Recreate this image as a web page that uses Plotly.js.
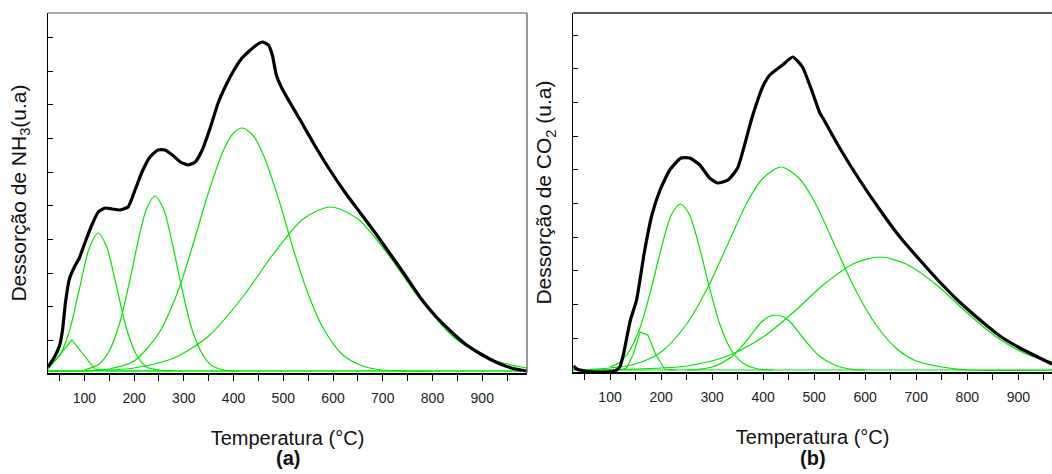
<!DOCTYPE html>
<html>
<head>
<meta charset="utf-8">
<script src="https://cdn.plot.ly/plotly-3.0.1.min.js"></script>
<style>html,body{margin:0;padding:0;background:#fff;}#chart{width:1052px;height:474px;}</style>
</head>
<body>
<div id="chart"></div>
<script>
// ---------- Panel (a): NH3-TPD ----------
const tempA = [27,40,50,56,62,70,80,90,101,116,128,142,156,172,188,202,216,232,248,262,277,293,309,323,337,353,369,385,401,417,434,446,458,470,478,486,498,514,534,564,595,625,655,685,715,746,776,806,836,866,897,927,947,967,989];
const sinalA = [4,14,25,40,68,92,104,113,128,147,159,163,162,161,164,181,199,214,221,221,216,209,206,209,221,243,268,286,301,313,321,326,329,326,316,296,282,268,251,225,200,178,158,138,117,95,73,55,40,27,17,9,5,2,0];

const a1T = [27,75,121,150,990];
const a1Y = [2,31,2,0,0];
const a2T = [27,50,70,90,110,128,145,165,185,205,225,250,280];
const a2Y = [5,15,40,82,123,138,124,84,42,16,4,1,0];
const a3T = [100,130,150,170,190,210,225,242,260,275,295,315,335,355,380,410];
const a3Y = [1,7,20,46,87,134,162,175,161,132,85,44,19,6,1,0];
const a4T = [27,100,150,200,250,290,320,350,380,400,418,440,460,490,520,550,580,620,660,700,750,800];
const a4Y = [0,0,2,10,38,82,129,179,221,238,243,235,216,173,122,77,43,16,5,1,0,0];
const a5T = [27,100,200,280,350,420,480,540,595,650,710,770,840,910,990];
const a5Y = [0,0,3,13,35,75,117,152,164,152,117,75,35,13,3];
const baseA_T = [27,990];
const baseA_Y = [0,0];

// ---------- Panel (b): CO2-TPD ----------
const tempB = [28,35,50,70,90,110,119,126,133,140,152,168,182,198,217,239,256,276,295,311,331,350,378,399,413,438,458,477,497,511,517,550,589,629,668,707,746,785,825,864,903,942,966];
const sinalB = [4,1,-1,-2,-2,-1,3,15,33,50,70,120,155,180,200,212,212,205,192,187,190,202,252,283,295,305,313,303,277,257,252,222,190,160,133,110,88,68,50,34,22,12,6];

const b1T = [120,132,145,159,174,190,207,230];
const b1Y = [0,2,15,38,35,15,1,0];
const b2T = [100,120,140,160,180,200,220,238,255,275,295,315,335,360,390,420];
const b2Y = [3,8,21,44,80,121,155,166,156,123,82,46,22,7,1,0];
const b3T = [28,100,150,200,250,290,330,370,400,435,470,500,540,580,620,660,700,750,800,966];
const b3Y = [0,2,6,18,46,81,125,169,192,203,192,169,125,81,46,22,9,3,0,0];
const b4T = [250,300,340,370,395,410,425,440,455,480,510,540,570,600];
const b4Y = [0,3,14,31,47,53,55,53,47,31,14,5,1,0];
const b5T = [28,150,250,330,400,460,520,580,629,680,740,800,860,920,966];
const b5Y = [0,1,4,14,33,58,86,107,113,106,85,57,32,15,8];
const baseB_T = [28,966];
const baseB_Y = [0,0];

const GREEN = '#00e600';
const FONT = 'Liberation Sans, Arial, sans-serif';

function green(x, y, xa, ya, shape) {
  return {x: x, y: y, xaxis: xa, yaxis: ya, type: 'scatter', mode: 'lines',
    line: {color: GREEN, width: 1.2, shape: shape || 'spline', smoothing: 0.8},
    hoverinfo: 'skip', showlegend: false};
}
function black(x, y, xa, ya) {
  return {x: x, y: y, xaxis: xa, yaxis: ya, type: 'scatter', mode: 'lines',
    line: {color: '#000', width: 3.2, shape: 'spline', smoothing: 0.5},
    hoverinfo: 'skip', showlegend: false};
}

const data = [
  green(baseA_T, baseA_Y, 'x', 'y', 'linear'),
  green(a1T, a1Y, 'x', 'y', 'linear'),
  green(a2T, a2Y, 'x', 'y'),
  green(a3T, a3Y, 'x', 'y'),
  green(a4T, a4Y, 'x', 'y'),
  green(a5T, a5Y, 'x', 'y'),
  black(tempA, sinalA, 'x', 'y'),
  green(baseB_T, baseB_Y, 'x2', 'y2', 'linear'),
  green(b1T, b1Y, 'x2', 'y2', 'linear'),
  green(b2T, b2Y, 'x2', 'y2'),
  green(b3T, b3Y, 'x2', 'y2'),
  green(b4T, b4Y, 'x2', 'y2'),
  green(b5T, b5Y, 'x2', 'y2'),
  black(tempB, sinalB, 'x2', 'y2')
];

function xAxis(domain, range, anchor) {
  return {
    domain: domain, range: range, anchor: anchor,
    showgrid: false, zeroline: false,
    showline: true, linecolor: '#000', linewidth: 2,
    ticks: 'outside', ticklen: 6, tickwidth: 1, tickcolor: '#000',
    tick0: 0, dtick: 100,
    minor: {dtick: 50, tick0: 0, ticks: 'outside', ticklen: 6, tickwidth: 1, tickcolor: '#000'},
    tickfont: {family: FONT, size: 14, color: '#222'},
    ticklabelstandoff: 5,
    title: {text: 'Temperatura (°C)', font: {family: FONT, size: 20, color: '#111'}, standoff: 26}
  };
}
function yAxis(domain, range, anchor, title, dtick, tick0) {
  return {
    domain: domain, range: range, anchor: anchor,
    showgrid: false, zeroline: false,
    showline: true, linecolor: '#000', linewidth: 1.5,
    ticks: 'inside', ticklen: 5, tickwidth: 1, tickcolor: '#000',
    dtick: dtick, tick0: tick0,
    showticklabels: false,
    title: {text: title, font: {family: FONT, size: 21, color: '#111'}, standoff: 14}
  };
}

const layout = {
  width: 1052, height: 474,
  margin: {l: 48, r: 0, t: 13, b: 101},
  paper_bgcolor: '#fff', plot_bgcolor: '#fff',
  font: {family: FONT},
  xaxis: xAxis([0, 0.4771], [27, 990], 'y'),
  yaxis: yAxis([0, 1], [-2, 358], 'x', 'Dessorção de NH<sub>3</sub>(u.a)', 33.7, -3.3),
  xaxis2: xAxis([0.5232, 1], [28, 966], 'y2'),
  yaxis2: yAxis([0.0028, 1], [-2, 357], 'x2', 'Dessorção de CO<sub>2</sub> (u.a)', 33.7, -2),
  shapes: [
    {type: 'line', xref: 'x domain', yref: 'y domain', x0: 0, x1: 1, y0: 1, y1: 1, line: {color: '#555', width: 1.2}},
    {type: 'line', xref: 'x domain', yref: 'y domain', x0: 1, x1: 1, y0: 0, y1: 1, line: {color: '#555', width: 1.2}},
    {type: 'line', xref: 'x2 domain', yref: 'y2 domain', x0: 0, x1: 1, y0: 1, y1: 1, line: {color: '#222', width: 1.5}}
  ],
  annotations: [
    {text: '<b>(a)</b>', xref: 'x domain', yref: 'paper', x: 0.5, y: -0.236, showarrow: false,
     font: {family: FONT, size: 20, color: '#111'}, xanchor: 'center', yanchor: 'middle'},
    {text: '<b>(b)</b>', xref: 'x2 domain', yref: 'paper', x: 0.5, y: -0.236, showarrow: false,
     font: {family: FONT, size: 20, color: '#111'}, xanchor: 'center', yanchor: 'middle'}
  ]
};

Plotly.newPlot('chart', data, layout, {staticPlot: true, displayModeBar: false});
</script>
</body>
</html>
